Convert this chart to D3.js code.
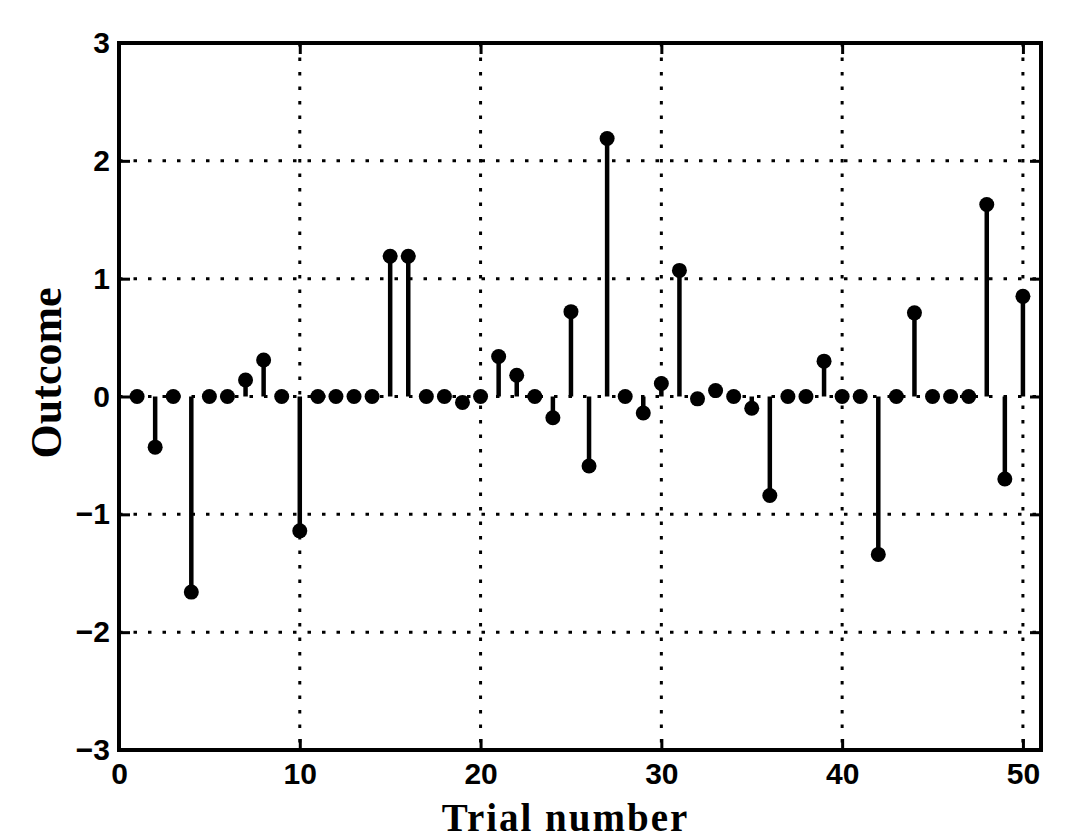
<!DOCTYPE html>
<meta charset="utf-8">
<style>
  body { margin: 0; background: #fff; }
</style>
<script src="https://cdn.jsdelivr.net/npm/d3@7/dist/d3.min.js"></script>
<div id="stem_chart"></div>
<script>

// trial outcomes (trial 1 .. 50)
var trials = d3.range(1, 51);
var outcomes = [
   0.00, -0.43,  0.00, -1.66,  0.00,  0.00,  0.14,  0.31,  0.00, -1.14,
   0.00,  0.00,  0.00,  0.00,  1.19,  1.19,  0.00,  0.00, -0.05,  0.00,
   0.34,  0.18,  0.00, -0.18,  0.72, -0.59,  2.19,  0.00, -0.14,  0.11,
   1.07, -0.02,  0.05,  0.00, -0.10, -0.84,  0.00,  0.00,  0.30,  0.00,
   0.00, -1.34,  0.00,  0.71,  0.00,  0.00,  0.00,  1.63, -0.70,  0.85
];
var xTicks = [0, 10, 20, 30, 40, 50];
var yTicks = [-3, -2, -1, 0, 1, 2, 3];

var data = trials.map(function(t, i) { return {trial: t, value: outcomes[i]}; });

var margin = {top: 43, right: 29, bottom: 90, left: 119},
    width = 1070 - margin.left - margin.right,
    height = 840 - margin.top - margin.bottom;

var svg = d3.select("#stem_chart")
  .append("svg")
    .attr("width", 1070)
    .attr("height", 840)
  .append("g")
    .attr("transform", "translate(" + margin.left + "," + margin.top + ")");

var x = d3.scaleLinear().domain([0, 51]).range([0, width]);
var y = d3.scaleLinear().domain([-3, 3]).range([height, 0]);

// dotted grid
svg.append("g")
  .selectAll("line")
  .data(xTicks.filter(function(d) { return d > 0; }))
  .enter().append("line")
    .attr("x1", function(d) { return x(d); })
    .attr("x2", function(d) { return x(d); })
    .attr("y1", 0)
    .attr("y2", height)
    .attr("stroke", "#000")
    .attr("stroke-width", 3)
    .attr("stroke-dasharray", "3.5,11");

svg.append("g")
  .selectAll("line")
  .data(yTicks.filter(function(d) { return d > -3 && d < 3; }))
  .enter().append("line")
    .attr("x1", 0)
    .attr("x2", width)
    .attr("y1", function(d) { return y(d); })
    .attr("y2", function(d) { return y(d); })
    .attr("stroke", "#000")
    .attr("stroke-width", 3)
    .attr("stroke-dasharray", "3.5,11");

// stems
svg.append("g")
  .selectAll("line")
  .data(data)
  .enter().append("line")
    .attr("x1", function(d) { return x(d.trial); })
    .attr("x2", function(d) { return x(d.trial); })
    .attr("y1", y(0))
    .attr("y2", function(d) { return y(d.value); })
    .attr("stroke", "#000")
    .attr("stroke-width", 4.5);

// heads
svg.append("g")
  .selectAll("circle")
  .data(data)
  .enter().append("circle")
    .attr("cx", function(d) { return x(d.trial); })
    .attr("cy", function(d) { return y(d.value); })
    .attr("r", 7.5)
    .attr("fill", "#000");

// axes, ticks pointing inward
var tickFont = "bold 30px 'Liberation Sans', Arial, sans-serif";

var xAxis = svg.append("g")
  .attr("transform", "translate(0," + height + ")")
  .call(d3.axisBottom(x).tickValues(xTicks).tickSizeInner(-11).tickSizeOuter(0).tickPadding(13));
var xAxisTop = svg.append("g")
  .call(d3.axisTop(x).tickValues(xTicks).tickSizeInner(-11).tickSizeOuter(0).tickFormat(""));
var yAxis = svg.append("g")
  .call(d3.axisLeft(y).tickValues(yTicks).tickSizeInner(-11).tickSizeOuter(0).tickPadding(9)
    .tickFormat(d3.format("d")));
var yAxisRight = svg.append("g")
  .attr("transform", "translate(" + width + ",0)")
  .call(d3.axisRight(y).tickValues(yTicks).tickSizeInner(-11).tickSizeOuter(0).tickFormat(""));

[xAxis, xAxisTop, yAxis, yAxisRight].forEach(function(a) {
  a.select(".domain").remove();
  a.selectAll(".tick line").attr("stroke", "#000").attr("stroke-width", 3);
  a.selectAll("text").style("font", tickFont).attr("fill", "#000");
});

// frame
svg.append("rect")
  .attr("x", 0)
  .attr("y", 0)
  .attr("width", width)
  .attr("height", height)
  .attr("fill", "none")
  .attr("stroke", "#000")
  .attr("stroke-width", 4);

// labels
svg.append("text")
  .attr("x", x(24.7))
  .attr("y", height + 81)
  .attr("text-anchor", "middle")
  .style("font", "bold 39px 'Liberation Serif', 'Times New Roman', serif")
  .style("letter-spacing", "2px")
  .text("Trial number");

svg.append("text")
  .attr("transform", "translate(" + (61 - margin.left) + "," + y(0.2) + ")rotate(-90)")
  .attr("text-anchor", "middle")
  .style("font", "bold 44px 'Liberation Serif', 'Times New Roman', serif")
  .text("Outcome");

</script>
